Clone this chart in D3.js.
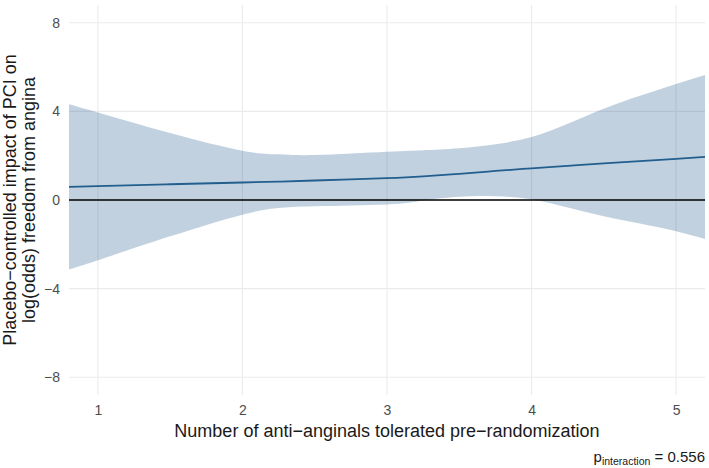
<!DOCTYPE html>
<html>
<head>
<meta charset="utf-8">
<script src="https://cdn.jsdelivr.net/npm/d3@7"></script>
<style>
  body { margin: 0; background: #fff; }
  svg text { font-family: "Liberation Sans", Arial, Helvetica, sans-serif; }
</style>
</head>
<body>
<div id="chart"></div>
<script>
// values
var xs    = [0.8, 1, 1.5, 2, 2.25, 2.5, 3, 3.25, 3.5, 3.75, 4, 4.25, 4.5, 4.75, 5, 5.2];
var fit   = [0.59, 0.63, 0.71, 0.79, 0.83, 0.88, 0.99, 1.07, 1.18, 1.31, 1.43, 1.54, 1.65, 1.75, 1.86, 1.95];
var lower = [-3.14, -2.72, -1.64, -0.66, -0.36, -0.28, -0.20, -0.02, 0.15, 0.17, 0.03, -0.34, -0.73, -1.06, -1.41, -1.76];
var upper = [4.32, 3.95, 3.02, 2.22, 2.06, 2.03, 2.18, 2.25, 2.34, 2.52, 2.84, 3.44, 4.12, 4.70, 5.24, 5.64];
var xTicks = [1, 2, 3, 4, 5];
var yTicks = [-8, -4, 0, 4, 8];

// "top" is taken by window.top, so panel edges get their own names
var width = 709,
    height = 468,
    panelL = 69, panelR = 705, panelT = 5, panelB = 395;

var rows = xs.map(function (d, i) {
    return {x: d, fit: fit[i], lo: lower[i], hi: upper[i]};
});

var x = d3.scaleLinear().domain([0.8, 5.2]).range([panelL, panelR]);
var y = d3.scaleLinear().domain([-8.8, 8.8]).range([panelB, panelT]);

var svg = d3.select("#chart").append("svg")
    .attr("width", width)
    .attr("height", height);

// grid
svg.append("g").selectAll("line")
    .data(yTicks)
    .enter().append("line")
    .attr("x1", panelL).attr("x2", panelR)
    .attr("y1", y).attr("y2", y)
    .attr("stroke", "#ebebeb")
    .attr("stroke-width", 1.1);

svg.append("g").selectAll("line")
    .data(xTicks)
    .enter().append("line")
    .attr("y1", panelT).attr("y2", panelB)
    .attr("x1", x).attr("x2", x)
    .attr("stroke", "#ebebeb")
    .attr("stroke-width", 1.1);

// ribbon
var area = d3.area()
    .x(function (d) { return x(d.x); })
    .y0(function (d) { return y(d.lo); })
    .y1(function (d) { return y(d.hi); })
    .curve(d3.curveNatural);

svg.append("path")
    .datum(rows)
    .attr("d", area)
    .attr("fill", "#1f5a8c")
    .attr("fill-opacity", 0.28);

// zero line
svg.append("line")
    .attr("x1", panelL).attr("x2", panelR)
    .attr("y1", y(0)).attr("y2", y(0))
    .attr("stroke", "#000")
    .attr("stroke-width", 1.4);

// fitted line
var line = d3.line()
    .x(function (d) { return x(d.x); })
    .y(function (d) { return y(d.fit); })
    .curve(d3.curveNatural);

svg.append("path")
    .datum(rows)
    .attr("d", line)
    .attr("fill", "none")
    .attr("stroke", "#225e8e")
    .attr("stroke-width", 1.8);

// axes (labels only, like theme_minimal)
var xAxis = svg.append("g")
    .attr("transform", "translate(0," + panelB + ")")
    .call(d3.axisBottom(x).tickValues(xTicks).tickSize(0).tickPadding(10).tickFormat(d3.format("d")));
xAxis.select(".domain").remove();
xAxis.selectAll("text").attr("fill", "#4d4d4d").style("font-size", "14px");

var yAxis = svg.append("g")
    .attr("transform", "translate(" + panelL + ",0)")
    .call(d3.axisLeft(y).tickValues(yTicks).tickSize(0).tickPadding(9)
        .tickFormat(function (d) { return d < 0 ? "\u2212" + Math.abs(d) : d; }));
yAxis.select(".domain").remove();
yAxis.selectAll("text").attr("fill", "#4d4d4d").style("font-size", "14px");

// titles
svg.append("text")
    .attr("x", (panelL + panelR) / 2)
    .attr("y", 437)
    .attr("text-anchor", "middle")
    .style("font-size", "18px")
    .attr("fill", "#1a1a1a")
    .text("Number of anti\u2212anginals tolerated pre\u2212randomization");

var yTitle = svg.append("text")
    .attr("transform", "translate(0," + ((panelT + panelB) / 2) + ") rotate(-90)")
    .attr("text-anchor", "middle")
    .style("font-size", "18px")
    .attr("fill", "#1a1a1a");
yTitle.append("tspan").attr("x", 0).attr("y", 16)
    .text("Placebo\u2212controlled impact of PCI on");
yTitle.append("tspan").attr("x", 0).attr("y", 35)
    .text("log(odds) freedom from angina");

var cap = svg.append("text")
    .attr("x", panelR)
    .attr("y", 462)
    .attr("text-anchor", "end")
    .style("font-size", "15px")
    .attr("fill", "#1a1a1a");
cap.append("tspan").text("p");
cap.append("tspan").attr("dy", 3).style("font-size", "10.5px").text("interaction");
cap.append("tspan").attr("dy", -3).text(" = 0.556");
</script>
</body>
</html>
